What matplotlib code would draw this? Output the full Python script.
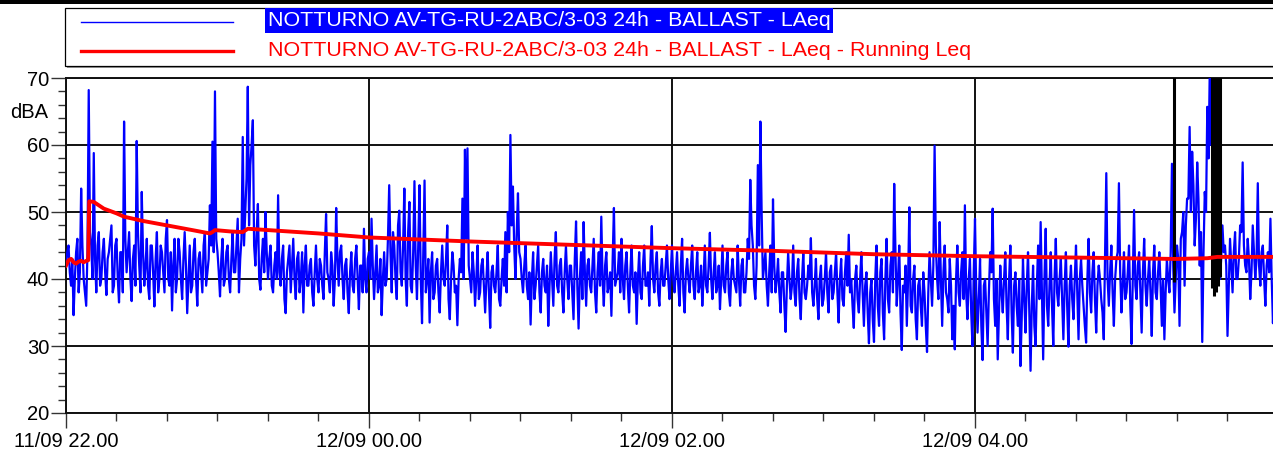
import matplotlib
matplotlib.use("Agg")
import matplotlib.pyplot as plt
from matplotlib.patches import Rectangle
from matplotlib.lines import Line2D
import numpy as np

plt.rcParams['font.family'] = ['Liberation Sans', 'DejaVu Sans']

# ---------------- data (minutes after 11/09 22.00) -------------
# LAeq read at each whole minute
laeq_h1 = [42, 45, 39, 34.6, 44, 38, 53.5, 40, 36, 68.2,
           45, 58.8, 38, 47, 40, 46, 37.6, 44, 48, 39,
           46, 36.5, 44, 63.5, 41, 47, 36.7, 45, 60.6, 42,
           53, 39, 46, 37, 45, 35.9, 47, 40, 44, 38,
           48.8, 39, 35.3, 46, 40, 44, 37, 47, 34.9, 45,
           39, 46, 36, 44, 38, 47, 41, 51, 60.5, 68.0]
laeq_h2 = [44, 37.4, 46, 40, 45, 38, 47, 41, 49, 43,
           61.2, 50, 68.7, 57, 63.7, 42, 51.2, 38.4, 46, 50,
           40, 45, 38, 44, 52.5, 39, 45, 34.9, 43, 38,
           46, 37, 44, 40, 35, 45, 39, 43, 36, 45,
           38, 42, 37, 49.7, 40, 44, 36, 50.6, 39, 45,
           37, 43, 34.9, 44, 38, 45, 35.5, 42, 47.5, 38]
laeq_h3 = [44, 49, 37, 45, 39, 34.6, 44, 40, 54, 38,
           45, 37, 50.2, 39, 53.5, 36, 51.5, 38, 54.6, 37,
           54, 33.4, 54.7, 40, 33.5, 44, 38, 43, 35, 45,
           39, 48, 34, 44, 38, 33.1, 43, 52, 59.3, 59.5,
           40, 44, 36, 45, 38, 43, 35, 44, 32.7, 42,
           38, 45, 36, 43, 47, 50, 61.5, 53.8, 40, 52.8]
laeq_h4 = [43, 38, 45, 37, 33.2, 44, 39, 45, 35, 43,
           38, 33, 44, 36, 47, 38, 43, 35, 45, 37,
           42, 34, 48.6, 32.6, 44, 48.5, 36, 43, 38, 46,
           35, 44, 49.3, 36, 44, 39, 34.5, 50.6, 40, 44,
           46, 37, 44, 35, 45, 38, 33.3, 44, 37, 45,
           39, 36, 47.9, 38, 44, 36, 43, 39, 45, 37]
laeq_h5 = [45, 38, 44, 36, 46, 35, 43, 38, 45, 37,
           44, 39, 36, 45, 38, 46.9, 37, 44, 39, 35.5,
           45, 38, 44, 36, 43, 39, 45, 36, 43, 38,
           46, 54.8, 45, 37, 57, 63.5, 40, 44, 36, 45,
           51.9, 38, 43, 35, 41, 32.1, 44, 37, 45, 36,
           43, 34, 44, 37, 42, 46.1, 36, 43, 34, 42]
laeq_h6 = [37, 44, 35, 42, 38, 44, 33.5, 43, 36, 44,
           46.6, 40, 32.7, 42, 35, 44, 33, 41, 30.4, 40,
           30.6, 45, 33, 43, 31, 46, 35, 44, 54.2, 36,
           45, 29.4, 38, 33, 50.7, 35, 42, 31, 40, 33,
           38, 29.1, 44, 36, 59.9, 40, 48.5, 33, 45, 37,
           43, 31, 29.5, 45, 36, 44, 51, 34, 43, 30]
laeq_h7 = [49, 32, 43, 27.9, 40, 30, 44, 50.5, 33, 28,
           42, 35, 44, 31, 45, 29, 41, 33, 27, 43,
           32, 44, 26.3, 42, 30, 45, 48.5, 28, 47.5, 33,
           44, 30, 46, 36, 43, 31, 44, 29.9, 42, 34,
           45, 31, 43, 36, 30.5, 46, 35, 44, 32, 42,
           37, 31, 55.8, 36, 45, 33, 43, 54.3, 35, 44]
laeq_h8 = [38, 45, 30.3, 50.3, 37, 44, 32, 46, 36, 43,
           31.5, 45, 37, 44, 33, 31, 43, 38, 57.2, 35,
           45, 33, 47, 39, 52, 62.7, 59, 45, 57.4, 42,
           30.6, 53, 65.7, 72, 75, 71, 56.5, 40, 48,
           45, 31.5, 46, 38, 47, 40, 48, 57.4, 42, 46,
           37, 48, 40, 54.3, 39, 45, 36, 44, 49, 33.4]

# LAeq read at each half minute (m + 0.5)
half_h1 = [44, 41, 43, 40, 46, 41, 45, 38, 44, 47,
           40, 43, 45, 39, 44, 41, 43, 46, 38, 45,
           40, 44, 38, 46, 44, 40, 43, 39, 47, 38,
           44, 42, 39, 45, 41, 43, 38, 45, 41, 46,
           40, 44, 42, 38, 46, 40, 43, 42, 40, 38,
           44, 40, 43, 41, 45, 39, 43, 45, 44, 46]
half_h2 = [41, 43, 39, 44, 40, 43, 41, 45, 38, 46,
           45, 55, 48, 60, 45, 47, 40, 43, 41, 44,
           43, 39, 42, 40, 41, 43, 37, 41, 45, 42,
           40, 43, 38, 44, 42, 39, 42, 38, 41, 40,
           43, 39, 44, 41, 38, 42, 40, 43, 44, 40,
           42, 38, 41, 39, 43, 40, 42, 38, 40, 43]
half_h3 = [40, 42, 41, 38, 43, 40, 39, 46, 44, 47,
           40, 48, 41, 45, 40, 47, 39, 44, 42, 45,
           40, 44, 38, 43, 41, 37, 42, 38, 41, 40,
           43, 37, 40, 42, 39, 40, 41, 40, 46, 42,
           38, 41, 40, 37, 42, 39, 40, 38, 41, 39,
           41, 37, 40, 39, 38, 44, 48, 45, 47, 44]
half_h4 = [40, 42, 39, 41, 40, 37, 42, 38, 41, 39,
           42, 39, 40, 43, 39, 42, 38, 41, 40, 42,
           38, 43, 39, 40, 37, 41, 42, 39, 42, 38,
           41, 39, 40, 42, 38, 41, 43, 39, 41, 38,
           40, 42, 39, 41, 39, 41, 40, 38, 42, 39,
           41, 43, 40, 42, 38, 41, 39, 42, 40, 41]
half_h5 = [40, 41, 39, 42, 38, 41, 40, 42, 39, 41,
           38, 42, 40, 39, 42, 40, 41, 38, 42, 40,
           39, 42, 38, 41, 40, 38, 40, 42, 38, 41,
           43, 48, 39, 42, 45, 50, 42, 39, 41, 38,
           42, 40, 38, 41, 36, 39, 40, 39, 38, 41,
           37, 40, 38, 39, 40, 38, 39, 37, 40, 36]
half_h6 = [40, 38, 41, 37, 41, 38, 40, 37, 41, 39,
           38, 36, 40, 37, 40, 38, 39, 35, 38, 34,
           40, 36, 41, 35, 40, 37, 42, 38, 44, 40,
           35, 39, 42, 40, 36, 40, 34, 39, 36, 41,
           33, 38, 40, 42, 45, 37, 40, 41, 38, 35,
           39, 36, 40, 38, 41, 37, 38, 40, 35, 41]
half_h7 = [38, 37, 33, 39, 35, 38, 41, 37, 40, 35,
           38, 40, 36, 40, 35, 39, 36, 40, 34, 37,
           39, 35, 36, 33, 39, 37, 38, 40, 36, 39,
           36, 40, 38, 40, 37, 39, 36, 39, 37, 40,
           38, 40, 39, 33, 40, 38, 41, 37, 39, 40,
           35, 43, 40, 41, 38, 40, 44, 41, 39, 37]
half_h8 = [41, 36, 40, 39, 42, 38, 41, 39, 40, 38,
           41, 38, 41, 39, 40, 38, 40, 44, 42, 40,
           43, 46, 50, 48, 52, 50, 54, 49, 52, 47,
           44, 50, 58, 60, 62, 58, 45, 43, 44,
           42, 39, 42, 44, 40, 43, 47, 45, 41, 43,
           41, 44, 43, 42, 44, 40, 42, 41, 40, 39]

# running Leq read at knots (minute, dBA)
run_min = [0, 1, 2, 3, 4, 5, 6, 7, 8, 8.8, 9.2, 11, 15, 20, 23, 30, 40, 50, 57, 58, 59,
           65, 70, 72, 80, 100, 120, 160, 200, 240, 280, 320, 360, 400, 438, 440, 452,
           456, 478]
run_leq = [42.0, 42.8, 43.0, 42.5, 42.3, 42.6, 42.7, 42.5, 42.7, 42.8, 51.6, 51.5, 50.5,
           49.8, 49.3, 48.7, 48.0, 47.3, 46.8, 47.0, 47.3, 47.1, 47.0, 47.5, 47.3, 46.8,
           46.2, 45.6, 45.1, 44.6, 44.2, 43.7, 43.4, 43.2, 43.0, 43.0, 43.1, 43.3, 43.3]

# black event markers (minute, lower end in dBA)
event_min = [439.0, 453.8, 454.6, 455.4, 456.2, 457.0]
event_low = [39.6, 38.6, 37.5, 38.1, 39.0, 40.3]

xtick_min = [0, 120, 240, 360, 480]
xtick_labels = ["11/09 22.00", "12/09 00.00", "12/09 02.00", "12/09 04.00", ""]
ytick_vals = [20, 30, 40, 50, 60, 70]

label_blue = "NOTTURNO AV-TG-RU-2ABC/3-03 24h - BALLAST - LAeq"
label_red = "NOTTURNO AV-TG-RU-2ABC/3-03 24h - BALLAST - LAeq - Running Leq"

# ---------------- figure ----------------
W, H = 1273, 450
fig = plt.figure(figsize=(W / 100, H / 100), dpi=100)


def fx(x):
    return x / W


def fy(y):
    return 1 - y / H


ax_l, ax_r, ax_t, ax_b = 66, 1278, 78, 413
ax = fig.add_axes([fx(ax_l), fy(ax_b), (ax_r - ax_l) / W, (ax_b - ax_t) / H])

whole = laeq_h1 + laeq_h2 + laeq_h3 + laeq_h4 + laeq_h5 + laeq_h6 + laeq_h7 + laeq_h8
half = half_h1 + half_h2 + half_h3 + half_h4 + half_h5 + half_h6 + half_h7 + half_h8
tm = np.arange(len(whole))
t = np.column_stack([tm, tm + 0.5]).ravel()
laeq = np.column_stack([whole, half]).ravel()

ax.plot(t, laeq, color='#0000FF', lw=1.6, zorder=3)
ax.vlines(event_min, event_low, 75, color='black', lw=2.2, zorder=4)
ax.plot(run_min, run_leq, color='#FF0000', lw=2.8, zorder=5, solid_joinstyle='round')

ax.set_xlim(0, 480)
ax.set_ylim(20, 70)
ax.set_xticks(xtick_min)
ax.set_xticklabels(xtick_labels)
ax.set_xticks(np.arange(0, 481, 20), minor=True)
ax.set_yticks(ytick_vals)
ax.set_yticks(np.arange(20, 71, 2), minor=True)

ax.grid(True, which='major', color='#111111', lw=1.4, zorder=1)
ax.set_axisbelow(True)
for s in ['left', 'bottom', 'top', 'right']:
    ax.spines[s].set_color('#111111')
    ax.spines[s].set_linewidth(1.4)

ax.tick_params(axis='both', which='major', direction='out', length=11, width=1.0,
               color='#333333', labelsize=14.5, pad=2)
ax.tick_params(axis='both', which='minor', direction='out', length=6, width=1.0,
               color='#333333')
ax.tick_params(axis='x', which='major', length=11, pad=3)
ax.tick_params(axis='y', which='major', pad=1)

fig.text(fx(10), fy(113), "dBA", fontsize=14.5, va='center', ha='left')

# ---------------- legend box ----------------
fig.patches.append(Rectangle((0, fy(3.5)), 1, 3.5 / H, transform=fig.transFigure,
                             facecolor='black', edgecolor='none'))
fig.patches.append(Rectangle((fx(67), fy(68)), fx(1290 - 67), 58 / H, transform=fig.transFigure,
                             facecolor='#999999', edgecolor='none'))
fig.patches.append(Rectangle((fx(65), fy(66)), fx(1290 - 65), 58 / H, transform=fig.transFigure,
                             facecolor='white', edgecolor='black', lw=0.9))
fig.lines.append(Line2D([fx(81), fx(233)], [fy(22), fy(22)], transform=fig.transFigure,
                        color='#0000FF', lw=1.0))
fig.lines.append(Line2D([fx(81), fx(233)], [fy(51), fy(51)], transform=fig.transFigure,
                        color='#FF0000', lw=2.4))

fig.patches.append(Rectangle((fx(265), fy(33)), fx(833 - 265), 25 / H, transform=fig.transFigure,
                             facecolor='#0000FF', edgecolor='none'))
tb = fig.text(fx(268), fy(21), label_blue, fontsize=15, color='white', va='center', ha='left')
tr = fig.text(fx(268), fy(50), label_red, fontsize=15, color='#FF0000', va='center', ha='left')

fig.canvas.draw()
r = fig.canvas.get_renderer()
w = tb.get_window_extent(r).width
scale = 562 / w
tb.set_fontsize(15 * scale)
tr.set_fontsize(15 * scale)

fig.savefig("out.png", dpi=100)
